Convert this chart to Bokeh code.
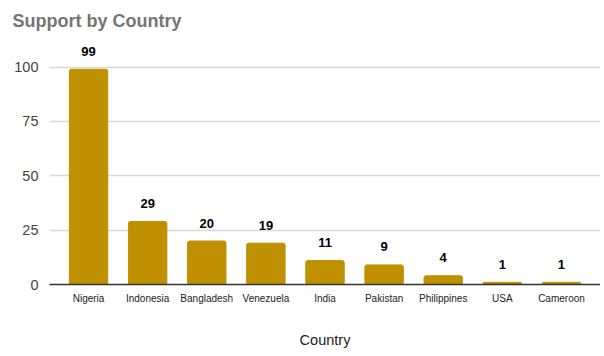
from bokeh.plotting import figure
from bokeh.models import ColumnDataSource, FactorRange, Range1d, FixedTicker
from bokeh.core.properties import value
from bokeh.embed import file_html
from bokeh.resources import INLINE

countries = ["Nigeria", "Indonesia", "Bangladesh", "Venezuela", "India",
             "Pakistan", "Philippines", "USA", "Cameroon"]
support = [99, 29, 20, 19, 11, 9, 4, 1, 1]
y_ticks = [0, 25, 50, 75, 100]

src = ColumnDataSource(dict(country=countries, support=support,
                            label=[str(v) for v in support]))

p = figure(x_range=FactorRange(factors=countries, range_padding=0.0356,
                               range_padding_units="percent"),
           y_range=Range1d(0, 115),
           frame_width=551, frame_height=250,
           output_backend="svg", toolbar_location=None,
           min_border_left=49, min_border_right=0, min_border_top=34,
           min_border_bottom=0)

p.title.text = "Support by Country"
p.title.text_font = "Liberation Sans"
p.title.text_font_size = "18px"
p.title.text_color = "#757575"
p.title.text_font_style = "bold"
p.title.offset = -37
p.title.standoff = 7

p.outline_line_color = None
p.background_fill_color = "white"
p.border_fill_color = "white"

p.vbar(x="country", top="support", width=0.65, source=src,
       fill_color="#bf9000", line_color="#bf9000", border_radius=2)

p.text(x="country", y="support", text="label", source=src,
       text_align="center", text_baseline="middle", y_offset=-18,
       text_font=value("Liberation Sans"), text_font_style="bold",
       text_font_size="13px", text_color="#000000")

# grid
p.xgrid.grid_line_color = None
p.ygrid.grid_line_color = "#d9d9d9"
p.ygrid.grid_line_width = 1.3
p.yaxis.ticker = FixedTicker(ticks=y_ticks)

# y axis
p.yaxis.axis_line_color = None
p.yaxis.major_tick_line_color = None
p.yaxis.minor_tick_line_color = None
p.yaxis.major_label_text_font = "Liberation Sans"
p.yaxis.major_label_text_font_size = "14.5px"
p.yaxis.major_label_text_color = "#444444"
p.yaxis.major_label_standoff = 5

# x axis
p.xaxis.axis_line_color = "#333333"
p.xaxis.axis_line_width = 1.5
p.xaxis.major_tick_line_color = None
p.xaxis.minor_tick_line_color = None
p.xaxis.major_label_text_font = "Liberation Sans"
p.xaxis.major_label_text_font_size = "10px"
p.xaxis.major_label_text_color = "#222222"
p.xaxis.major_label_standoff = 2
p.xaxis.axis_label = "Country"
p.xaxis.axis_label_text_font = "Liberation Sans"
p.xaxis.axis_label_text_font_size = "14.5px"
p.xaxis.axis_label_text_font_style = "normal"
p.xaxis.axis_label_text_color = "#222222"
p.xaxis.axis_label_standoff = 25

open("out.html", "w").write(file_html(p, INLINE))
